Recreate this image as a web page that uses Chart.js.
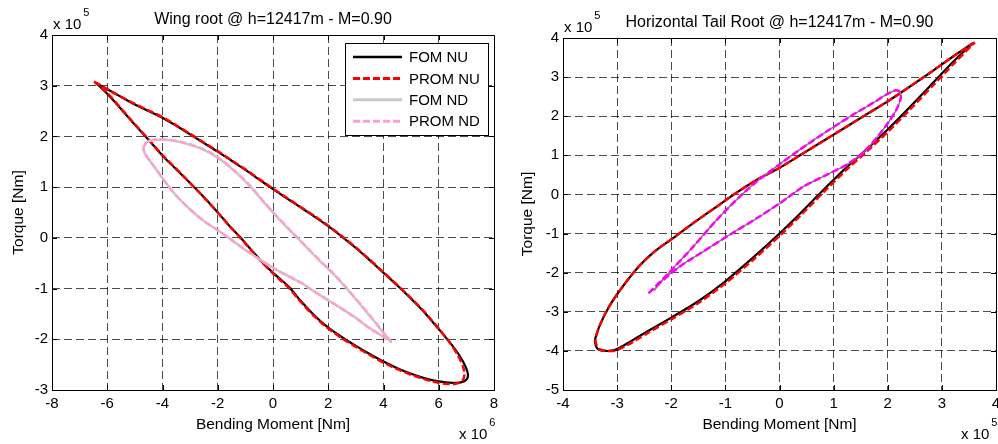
<!DOCTYPE html>
<html>
<head>
<meta charset="utf-8">
<title>Root loads</title>
<script src="https://cdn.jsdelivr.net/npm/chart.js@4/dist/chart.umd.min.js"></script>
<style>
  html, body { margin: 0; padding: 0; background: #fff; }
  body { width: 998px; height: 444px; position: relative; overflow: hidden; }
  canvas { position: absolute; top: 0; }
  #wingChart { left: 0; }
  #tailChart { left: 500px; }
</style>
</head>
<body>
<canvas id="wingChart" width="500" height="444"></canvas>
<canvas id="tailChart" width="498" height="444"></canvas>
<script>
// ----------------------------------------------------------------
// data: [bending moment, torque] pairs, in the axis units (x10^n)
// ----------------------------------------------------------------

const SERIES_NAMES = ['FOM NU', 'PROM NU', 'FOM ND', 'PROM ND'];

// wing root, bending x1e6 Nm, torque x1e5 Nm
const WING_FOM_NU = [
  [-6.42, 3.06], [-6.0, 2.93], [-5.5, 2.78], [-5.0, 2.63], [-4.5, 2.50], [-4.0, 2.37],
  [-3.5, 2.21], [-3.0, 2.04], [-2.5, 1.87], [-2.0, 1.70], [-1.5, 1.52], [-1.0, 1.34],
  [-0.5, 1.15], [0.0, 0.96], [0.5, 0.78], [1.0, 0.60], [1.5, 0.42], [2.0, 0.23],
  [2.5, 0.02], [3.0, -0.20], [3.5, -0.44], [4.0, -0.69], [4.5, -0.94], [5.0, -1.20],
  [5.5, -1.48], [6.0, -1.80], [6.4, -2.06], [6.75, -2.32], [6.97, -2.54], [7.06, -2.70],
  [7.0, -2.80], [6.8, -2.85], [6.5, -2.86], [6.0, -2.83], [5.5, -2.77], [5.0, -2.68],
  [4.5, -2.57], [4.0, -2.44], [3.5, -2.29], [3.0, -2.13], [2.5, -1.96], [2.0, -1.77],
  [1.5, -1.53], [1.0, -1.24], [0.6, -0.98], [0.3, -0.83], [0.0, -0.69], [-0.4, -0.47],
  [-0.8, -0.23], [-1.2, 0.02], [-1.6, 0.25], [-2.0, 0.50], [-2.5, 0.80], [-3.0, 1.08],
  [-3.5, 1.35], [-4.0, 1.62], [-4.5, 1.93], [-5.0, 2.23], [-5.5, 2.54], [-6.0, 2.84],
  [-6.42, 3.06],
];
const WING_PROM_NU = [
  [-6.48, 3.08], [-6.0, 2.93], [-5.5, 2.78], [-5.0, 2.64], [-4.5, 2.51], [-4.0, 2.38],
  [-3.5, 2.22], [-3.0, 2.05], [-2.5, 1.88], [-2.0, 1.71], [-1.5, 1.53], [-1.0, 1.35],
  [-0.5, 1.16], [0.0, 0.97], [0.5, 0.79], [1.0, 0.61], [1.5, 0.43], [2.0, 0.24],
  [2.5, 0.03], [3.0, -0.19], [3.5, -0.43], [4.0, -0.68], [4.5, -0.93], [5.0, -1.19],
  [5.5, -1.47], [6.0, -1.79], [6.4, -2.07], [6.7, -2.32], [6.88, -2.54], [6.93, -2.70],
  [6.85, -2.82], [6.6, -2.88], [6.3, -2.88], [6.0, -2.86], [5.5, -2.79], [5.0, -2.70],
  [4.5, -2.59], [4.0, -2.46], [3.5, -2.31], [3.0, -2.15], [2.5, -1.98], [2.0, -1.79],
  [1.5, -1.55], [1.0, -1.26], [0.6, -1.00], [0.3, -0.85], [0.0, -0.70], [-0.4, -0.48],
  [-0.8, -0.24], [-1.2, 0.01], [-1.6, 0.25], [-2.0, 0.50], [-2.5, 0.80], [-3.0, 1.08],
  [-3.5, 1.36], [-4.0, 1.63], [-4.5, 1.94], [-5.0, 2.24], [-5.5, 2.55], [-6.0, 2.86],
  [-6.48, 3.08],
];
const WING_FOM_ND = [
  [-4.70, 1.78], [-4.55, 1.89], [-4.3, 1.93], [-3.8, 1.93], [-3.3, 1.88], [-2.8, 1.80],
  [-2.3, 1.68], [-1.8, 1.50], [-1.3, 1.27], [-0.8, 1.00], [-0.3, 0.68], [0.2, 0.38],
  [0.7, 0.10], [1.2, -0.18], [1.7, -0.46], [2.2, -0.72], [2.7, -1.02], [3.2, -1.34],
  [3.7, -1.67], [4.0, -1.87], [4.22, -2.01], [4.0, -1.95], [3.5, -1.78], [3.0, -1.58],
  [2.5, -1.40], [2.0, -1.23], [1.5, -1.06], [1.0, -0.88], [0.5, -0.74], [0.0, -0.59],
  [-0.5, -0.42], [-1.0, -0.24], [-1.5, -0.04], [-2.0, 0.15], [-2.5, 0.33], [-3.0, 0.56],
  [-3.5, 0.83], [-3.9, 1.10], [-4.2, 1.33], [-4.5, 1.55], [-4.65, 1.68], [-4.70, 1.78],
];
const WING_PROM_ND = [
  [-4.70, 1.78], [-4.55, 1.90], [-4.3, 1.94], [-3.8, 1.94], [-3.3, 1.89], [-2.8, 1.81],
  [-2.3, 1.69], [-1.8, 1.51], [-1.3, 1.28], [-0.8, 1.01], [-0.3, 0.69], [0.2, 0.39],
  [0.7, 0.11], [1.2, -0.17], [1.7, -0.45], [2.2, -0.71], [2.7, -1.01], [3.2, -1.33],
  [3.7, -1.66], [4.0, -1.87], [4.27, -2.05], [4.0, -1.95], [3.5, -1.78], [3.0, -1.58],
  [2.5, -1.40], [2.0, -1.23], [1.5, -1.06], [1.0, -0.88], [0.5, -0.74], [0.0, -0.59],
  [-0.5, -0.42], [-1.0, -0.24], [-1.5, -0.04], [-2.0, 0.15], [-2.5, 0.33], [-3.0, 0.56],
  [-3.5, 0.83], [-3.9, 1.10], [-4.2, 1.33], [-4.5, 1.55], [-4.65, 1.68], [-4.70, 1.78],
];

// horizontal tail root, bending x1e5 Nm, torque x1e5 Nm
const TAIL_FOM_NU = [
  [3.57, 3.87], [3.2, 3.52], [2.8, 3.13], [2.4, 2.75], [2.0, 2.38], [1.6, 2.04],
  [1.2, 1.70], [0.8, 1.36], [0.4, 1.02], [0.0, 0.68], [-0.4, 0.39], [-0.8, 0.04],
  [-1.2, -0.35], [-1.6, -0.74], [-2.0, -1.15], [-2.3, -1.45], [-2.6, -1.84], [-2.9, -2.36],
  [-3.15, -2.87], [-3.33, -3.38], [-3.41, -3.75], [-3.36, -3.95], [-3.22, -4.0], [-3.05, -3.98],
  [-2.8, -3.80], [-2.5, -3.55], [-2.0, -3.15], [-1.5, -2.73], [-1.0, -2.22], [-0.5, -1.63],
  [0.0, -1.0], [0.4, -0.46], [0.8, 0.10], [1.2, 0.64], [1.6, 1.14], [2.0, 1.66],
  [2.4, 2.22], [2.8, 2.80], [3.2, 3.38], [3.57, 3.87],
];
const TAIL_PROM_NU = [
  [3.61, 3.89], [3.2, 3.52], [2.8, 3.13], [2.4, 2.75], [2.0, 2.38], [1.6, 2.04],
  [1.2, 1.70], [0.8, 1.36], [0.4, 1.02], [0.0, 0.68], [-0.4, 0.39], [-0.8, 0.04],
  [-1.2, -0.35], [-1.6, -0.74], [-2.0, -1.15], [-2.3, -1.45], [-2.6, -1.84], [-2.9, -2.36],
  [-3.15, -2.87], [-3.33, -3.38], [-3.40, -3.76], [-3.33, -3.95], [-3.19, -4.0], [-3.02, -3.99],
  [-2.77, -3.82], [-2.47, -3.57], [-1.97, -3.17], [-1.47, -2.75], [-0.97, -2.24], [-0.47, -1.65],
  [0.03, -1.02], [0.43, -0.48], [0.83, 0.08], [1.23, 0.62], [1.63, 1.12], [2.03, 1.64],
  [2.43, 2.20], [2.83, 2.78], [3.23, 3.36], [3.61, 3.89],
];
const TAIL_FOM_ND = [
  [-2.32, -2.46], [-2.02, -1.97], [-1.59, -1.33], [-1.16, -0.65], [-0.73, -0.05], [-0.42, 0.33],
  [-0.06, 0.71], [0.37, 1.14], [0.87, 1.61], [1.36, 2.04], [1.73, 2.34], [1.97, 2.55],
  [2.13, 2.66], [2.22, 2.63], [2.24, 2.46], [2.16, 2.17], [2.0, 1.82], [1.79, 1.44],
  [1.54, 1.06], [1.24, 0.76], [0.87, 0.50], [0.44, 0.20], [0.01, -0.22], [-0.42, -0.61],
  [-0.92, -1.03], [-1.41, -1.46], [-1.84, -1.84], [-2.21, -2.24], [-2.32, -2.46],
];
const TAIL_PROM_ND = [
  [-2.42, -2.53], [-2.02, -1.97], [-1.59, -1.33], [-1.16, -0.65], [-0.73, -0.05], [-0.42, 0.33],
  [-0.06, 0.71], [0.37, 1.14], [0.87, 1.61], [1.36, 2.04], [1.73, 2.34], [1.97, 2.55],
  [2.13, 2.66], [2.22, 2.63], [2.24, 2.46], [2.16, 2.17], [2.0, 1.82], [1.79, 1.44],
  [1.54, 1.06], [1.24, 0.76], [0.87, 0.50], [0.44, 0.20], [0.01, -0.22], [-0.42, -0.61],
  [-0.92, -1.03], [-1.41, -1.46], [-1.84, -1.84], [-2.21, -2.26], [-2.42, -2.53],
];

const WING_X_TICKS = { min: -8, max: 8, step: 2 };
const WING_Y_TICKS = { min: -3, max: 4, step: 1 };
const TAIL_X_TICKS = { min: -4, max: 4, step: 1 };
const TAIL_Y_TICKS = { min: -5, max: 4, step: 1 };

const FONT = '"Liberation Sans", Arial, Helvetica, sans-serif';

Chart.defaults.font.family = FONT;
Chart.defaults.color = '#000';

// ================================================================
// axes box, inward ticks, exponent labels, title, legend
// ================================================================

function drawExponent(ctx, x, y, base, exp) {
  ctx.font = `15px ${FONT}`;
  ctx.textAlign = 'left';
  ctx.textBaseline = 'middle';
  ctx.fillText(base, x, y);
  const w = ctx.measureText(base).width;
  ctx.font = `11px ${FONT}`;
  ctx.fillText(exp, x + w + 2, y - 12);
}

const matlabAxes = {
  id: 'matlabAxes',
  beforeDatasetsDraw(chart) {
    const { ctx, chartArea: a, scales } = chart;
    const len = 5;
    ctx.save();
    ctx.strokeStyle = '#000';
    ctx.lineWidth = 1;
    ctx.beginPath();
    scales.x.ticks.forEach((t) => {
      const px = Math.round(scales.x.getPixelForValue(t.value)) + 0.5;
      ctx.moveTo(px, a.bottom); ctx.lineTo(px, a.bottom - len);
      ctx.moveTo(px, a.top); ctx.lineTo(px, a.top + len);
    });
    scales.y.ticks.forEach((t) => {
      const py = Math.round(scales.y.getPixelForValue(t.value)) + 0.5;
      ctx.moveTo(a.left, py); ctx.lineTo(a.left + len, py);
      ctx.moveTo(a.right, py); ctx.lineTo(a.right - len, py);
    });
    ctx.stroke();
    ctx.strokeRect(Math.round(a.left) + 0.5, Math.round(a.top) + 0.5,
      Math.round(a.right - a.left), Math.round(a.bottom - a.top));
    ctx.restore();
  },
  afterDraw(chart, args, opts) {
    const { ctx, chartArea: a } = chart;
    ctx.save();
    ctx.fillStyle = '#000';

    ctx.font = `16px ${FONT}`;
    ctx.textAlign = 'center';
    ctx.textBaseline = 'middle';
    ctx.fillText(opts.title, (a.left + a.right) / 2, a.top - 15);

    drawExponent(ctx, a.left + 1, a.top - 10, 'x 10', opts.yExp);
    drawExponent(ctx, a.right - 35, a.bottom + 45, 'x 10', opts.xExp);

    if (opts.legend) {
      const box = { x: 345.5, y: 43.5, w: 143, h: 92 };
      ctx.fillStyle = '#fff';
      ctx.fillRect(box.x, box.y, box.w, box.h);
      ctx.strokeStyle = '#000';
      ctx.lineWidth = 1;
      ctx.strokeRect(box.x, box.y, box.w, box.h);
      chart.data.datasets.forEach((ds, i) => {
        const y = 57 + i * 21.4;
        ctx.save();
        ctx.strokeStyle = ds.borderColor;
        ctx.lineWidth = ds.borderWidth + 0.5;
        ctx.setLineDash(ds.borderDash || []);
        ctx.beginPath();
        ctx.moveTo(353, y);
        ctx.lineTo(402, y);
        ctx.stroke();
        ctx.restore();
        ctx.fillStyle = '#000';
        ctx.font = `15px ${FONT}`;
        ctx.textAlign = 'left';
        ctx.textBaseline = 'middle';
        ctx.fillText(ds.label, 409, y + 1);
      });
    }
    ctx.restore();
  },
};

// ================================================================
// chart builders
// ================================================================

function toPoints(pairs) {
  return pairs.map(([x, y]) => ({ x, y }));
}

function lineSeries(label, pairs, color, width, dash, order) {
  return {
    label,
    data: toPoints(pairs),
    showLine: true,
    borderColor: color,
    backgroundColor: color,
    borderWidth: width,
    borderDash: dash,
    pointRadius: 0,
    pointHoverRadius: 0,
    tension: 0.25,
    fill: false,
    order,
  };
}

function gridAxis(range, titleText, titlePad, fitSize, horizontal) {
  return {
    type: 'linear',
    position: horizontal ? 'bottom' : 'left',
    min: range.min,
    max: range.max,
    ticks: {
      stepSize: range.step,
      autoSkip: false,
      maxRotation: 0,
      padding: horizontal ? 5 : 4,
      font: { size: 15 },
      color: '#000',
    },
    grid: { color: 'rgba(0,0,0,0.7)', lineWidth: 1, drawTicks: false },
    border: { display: false, dash: [8, 4] },
    title: {
      display: true,
      text: titleText,
      font: { size: 15.5 },
      color: '#000',
      padding: titlePad,
    },
    afterFit(scale) {
      if (horizontal) {
        scale.height = fitSize;
        scale.paddingLeft = 0;
        scale.paddingRight = 0;
      } else {
        scale.width = fitSize;
        scale.paddingTop = 0;
        scale.paddingBottom = 0;
      }
    },
  };
}

function makeChart(canvasId, cfg) {
  return new Chart(document.getElementById(canvasId), {
    type: 'scatter',
    data: { datasets: cfg.datasets },
    options: {
      responsive: false,
      animation: false,
      devicePixelRatio: 1,
      layout: { padding: cfg.padding },
      plugins: {
        legend: { display: false },
        tooltip: { enabled: false },
        matlabAxes: cfg.labels,
      },
      scales: {
        x: gridAxis(cfg.xTicks, 'Bending Moment [Nm]', { top: 0, bottom: 10 }, 54, true),
        y: gridAxis(cfg.yTicks, 'Torque [Nm]', { top: cfg.yTitlePad, bottom: 0 }, cfg.yAxisWidth, false),
      },
    },
    plugins: [matlabAxes],
  });
}

makeChart('wingChart', {
  datasets: [
    lineSeries(SERIES_NAMES[0], WING_FOM_NU, '#000000', 2.2, [], 4),
    lineSeries(SERIES_NAMES[1], WING_PROM_NU, '#ff0000', 2.5, [7, 3], 3),
    lineSeries(SERIES_NAMES[2], WING_FOM_ND, '#c8c8c8', 2.5, [], 2),
    lineSeries(SERIES_NAMES[3], WING_PROM_ND, '#ff9fcf', 2.5, [7, 3], 1),
  ],
  xTicks: WING_X_TICKS,
  yTicks: WING_Y_TICKS,
  yAxisWidth: 52,
  yTitlePad: 9,
  padding: { top: 35, right: 6, left: 0, bottom: 0 },
  labels: { title: 'Wing root @ h=12417m - M=0.90', xExp: '6', yExp: '5', legend: true },
});

makeChart('tailChart', {
  datasets: [
    lineSeries(SERIES_NAMES[0], TAIL_FOM_NU, '#000000', 2.2, [], 4),
    lineSeries(SERIES_NAMES[1], TAIL_PROM_NU, '#ff0000', 2.5, [7, 3], 3),
    lineSeries(SERIES_NAMES[2], TAIL_FOM_ND, '#808080', 1.5, [], 2),
    lineSeries(SERIES_NAMES[3], TAIL_PROM_ND, '#ff00ff', 2.5, [7, 3], 1),
  ],
  xTicks: TAIL_X_TICKS,
  yTicks: TAIL_Y_TICKS,
  yAxisWidth: 63,
  yTitlePad: 18,
  padding: { top: 38, right: 2, left: 0, bottom: 0 },
  labels: { title: 'Horizontal Tail Root @ h=12417m - M=0.90', xExp: '5', yExp: '5', legend: false },
});
</script>
</body>
</html>
